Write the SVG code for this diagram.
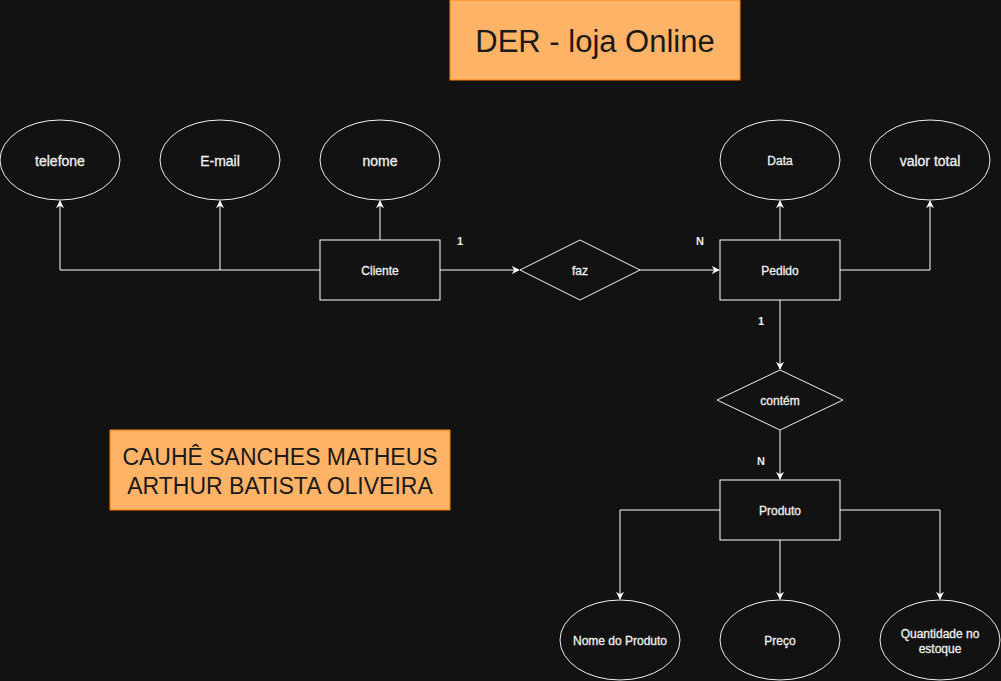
<svg xmlns="http://www.w3.org/2000/svg" width="1001" height="681" viewBox="0 0 1001 681">
<defs>
<marker id="arr" viewBox="0 0 10 10" refX="9" refY="5" markerWidth="8" markerHeight="8" markerUnits="userSpaceOnUse" orient="auto">
<path d="M0,0 L10,5 L0,10 L3,5 Z" fill="#ffffff"/>
</marker>
<style>
.bg{fill:#121212}
.ent{fill:#121212;stroke:#ffffff;stroke-width:1}
.att{fill:#121212;stroke:#f0f0f0;stroke-width:1}
.note{fill:#FFB366;stroke:#FF8000;stroke-width:1}
.t{font-family:"Liberation Sans",Arial,sans-serif;fill:#f0f0f0;text-anchor:middle;dominant-baseline:central;stroke:#f0f0f0;stroke-width:0.3}
.b{font-size:12px}
.r14{font-size:14px}
.card{font-family:"Liberation Sans",Arial,sans-serif;fill:#f0f0f0;font-weight:bold;font-size:11px;text-anchor:middle;dominant-baseline:central}
.big{font-family:"Liberation Sans",Arial,sans-serif;fill:#1a1a1a;text-anchor:middle;dominant-baseline:central}
.edge{fill:none;stroke:#ffffff;stroke-width:1;marker-end:url(#arr)}
</style>
</defs>
<rect class="bg" x="0" y="0" width="1001" height="681"/>
<g id="connectors">
<path class="edge" d="M380,240 L380,201"/>
<path class="edge" d="M320,270 L60,270 L60,201"/>
<path class="edge" d="M220,270 L220,201"/>
<path class="edge" d="M440,270 L519,270"/>
<path class="edge" d="M640,270 L719,270"/>
<path class="edge" d="M780,240 L780,201"/>
<path class="edge" d="M840,270 L930,270 L930,201"/>
<path class="edge" d="M780,300 L780,369"/>
<path class="edge" d="M780,430 L780,479"/>
<path class="edge" d="M720,510 L620,510 L620,599"/>
<path class="edge" d="M780,540 L780,599"/>
<path class="edge" d="M840,510 L940,510 L940,599"/>
</g>
<g id="labels">
<text class="card" x="460" y="241">1</text>
<text class="card" x="700" y="241">N</text>
<text class="card" x="761" y="321">1</text>
<text class="card" x="761" y="461">N</text>
</g>
<g id="title"><rect class="note" x="450" y="0" width="290" height="80"/><text class="big" x="595" y="41" font-size="31">DER - loja Online</text></g>
<g id="authors"><rect class="note" x="110" y="430" width="340" height="80"/><text class="big" font-size="23"><tspan x="280" y="457">CAUHÊ SANCHES MATHEUS</tspan><tspan x="280" y="486">ARTHUR BATISTA OLIVEIRA</tspan></text></g>
<g id="telefone"><ellipse class="att" cx="60" cy="160" rx="60" ry="40"/><text class="t r14" x="60" y="161">telefone</text></g>
<g id="email"><ellipse class="att" cx="220" cy="160" rx="60" ry="40"/><text class="t r14" x="220" y="161">E-mail</text></g>
<g id="nome"><ellipse class="att" cx="380" cy="160" rx="60" ry="40"/><text class="t r14" x="380" y="161">nome</text></g>
<g id="data"><ellipse class="att" cx="780" cy="160" rx="60" ry="40"/><text class="t b" x="780" y="161">Data</text></g>
<g id="valortotal"><ellipse class="att" cx="930" cy="160" rx="60" ry="40"/><text class="t r14" x="930" y="161">valor total</text></g>
<g id="cliente"><rect class="ent" x="320" y="240" width="120" height="60"/><text class="t b" x="380" y="271">Cliente</text></g>
<g id="faz"><path class="att" d="M580,240 L640,270 L580,300 L520,270 Z"/><text class="t b" x="580" y="271">faz</text></g>
<g id="pedido"><rect class="ent" x="720" y="240" width="120" height="60"/><text class="t b" x="780" y="271">Pedido</text></g>
<g id="contem"><path class="att" d="M780,370 L843,400 L780,430 L717,400 Z"/><text class="t b" x="780" y="401">contém</text></g>
<g id="produto"><rect class="ent" x="720" y="480" width="120" height="60"/><text class="t b" x="780" y="511">Produto</text></g>
<g id="nomeproduto"><ellipse class="att" cx="620" cy="640" rx="60" ry="40"/><text class="t b" x="620" y="641">Nome do Produto</text></g>
<g id="preco"><ellipse class="att" cx="780" cy="640" rx="60" ry="40"/><text class="t b" x="780" y="641">Preço</text></g>
<g id="quantidade"><ellipse class="att" cx="940" cy="640" rx="60" ry="40"/><text class="t b"><tspan x="940" y="634">Quantidade no</tspan><tspan x="940" y="649">estoque</tspan></text></g>
</svg>
